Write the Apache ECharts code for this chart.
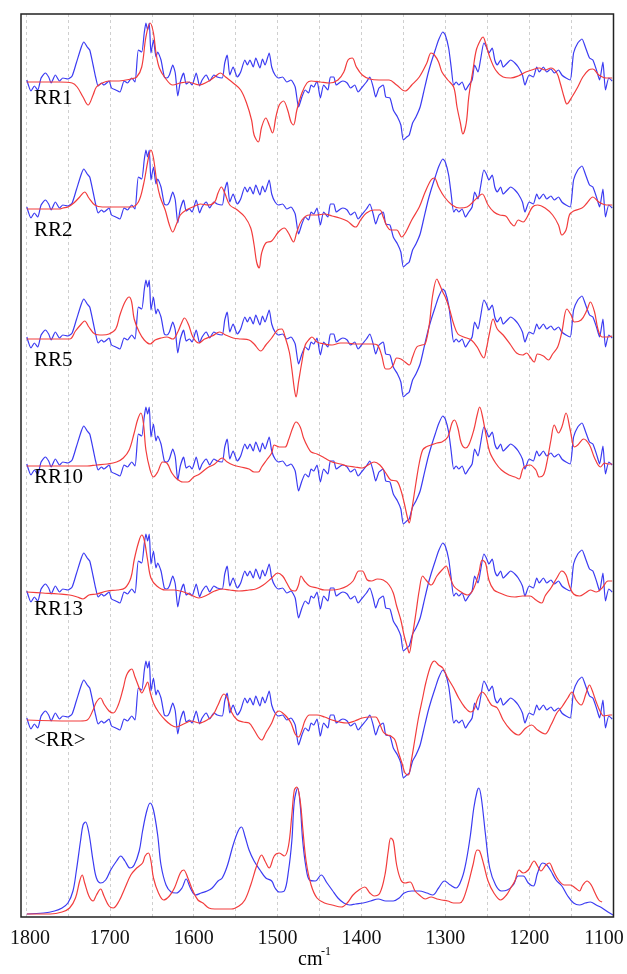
<!DOCTYPE html>
<html>
<head>
<meta charset="utf-8">
<script src="https://cdn.jsdelivr.net/npm/echarts@6/dist/echarts.min.js"></script>
<style>
  html, body { margin: 0; padding: 0; background: #ffffff; }
  #chart { width: 627px; height: 974px; }
</style>
</head>
<body>
<div id="chart"></div>
<script>
// Wavenumber axis (cm-1), drawn high to low
const xTickLabels = [1800, 1700, 1600, 1500, 1400, 1300, 1200, 1100];
const panelNames = ['RR1', 'RR2', 'RR5', 'RR10', 'RR13', '<RR>'];

// Experimental difference spectrum, [wavenumber, intensity]
const diffExp = [[1799,1],[1794,-10],[1790,-5],[1786,-9],[1782,3],[1777,8],[1773,4],[1770,-2],[1765,6],[1760,0],[1756,3],[1750,2],[1745,5],[1740,18],[1734,34],[1731,39],[1727,34],[1724,31],[1720,16],[1717,4],[1714,-5],[1710,-2],[1707,-4],[1701,0],[1698,-7],[1693,-9],[1688,-11],[1683,0],[1679,-2],[1674,3],[1670,-1],[1666,31],[1662,29],[1659,48],[1657,58],[1655,51],[1653,58],[1651,28],[1648,41],[1645,24],[1643,29],[1639,21],[1635,4],[1632,3],[1629,6],[1625,16],[1622,8],[1619,-15],[1616,-1],[1612,8],[1609,-3],[1605,-1],[1602,-4],[1597,8],[1593,-5],[1590,1],[1585,6],[1581,0],[1576,6],[1572,4],[1566,3],[1563,18],[1560,26],[1557,6],[1553,14],[1548,4],[1544,9],[1539,21],[1536,16],[1533,21],[1529,14],[1526,23],[1521,13],[1518,22],[1515,16],[1510,28],[1507,14],[1503,6],[1499,3],[1494,4],[1489,-1],[1484,1],[1479,-6],[1475,-26],[1471,-16],[1467,-9],[1463,-12],[1460,-4],[1457,-6],[1453,0],[1449,-17],[1445,-4],[1440,-9],[1437,4],[1433,4],[1430,-4],[1425,-1],[1422,0],[1417,-2],[1413,-7],[1408,-4],[1404,-11],[1399,-6],[1394,-1],[1390,4],[1386,-6],[1383,-16],[1379,-7],[1374,-4],[1371,-16],[1366,-17],[1362,-29],[1357,-36],[1353,-44],[1350,-59],[1346,-56],[1343,-54],[1339,-42],[1335,-36],[1330,-26],[1326,-12],[1321,6],[1317,18],[1312,31],[1308,41],[1303,49],[1300,46],[1296,33],[1293,14],[1290,-4],[1287,-1],[1284,-4],[1280,-1],[1276,-9],[1272,-4],[1268,1],[1265,16],[1261,9],[1258,21],[1254,38],[1251,34],[1248,28],[1244,33],[1241,21],[1238,16],[1234,21],[1231,14],[1226,18],[1222,21],[1217,18],[1213,14],[1208,6],[1205,-4],[1200,6],[1195,4],[1191,14],[1188,9],[1183,14],[1179,9],[1174,12],[1170,8],[1165,11],[1161,6],[1156,3],[1151,1],[1147,28],[1142,38],[1137,42],[1133,34],[1128,23],[1124,21],[1119,9],[1116,1],[1112,19],[1109,-9],[1105,3],[1101,0]];

// Calculated difference spectra, one per model
const diffRR1 = [[1799,-1],[1760,-1],[1745,-2],[1739,-6],[1732,-16],[1726,-24],[1720,-14],[1716,-6],[1709,-2],[1701,0],[1689,0],[1675,2],[1668,4],[1662,14],[1657,44],[1652,58],[1648,48],[1645,28],[1641,13],[1634,3],[1625,-4],[1616,-2],[1607,-1],[1593,-4],[1584,-1],[1575,4],[1568,8],[1562,4],[1553,-2],[1544,-9],[1537,-22],[1531,-39],[1528,-54],[1523,-61],[1519,-46],[1514,-37],[1510,-44],[1506,-52],[1502,-36],[1498,-24],[1493,-20],[1488,-29],[1484,-41],[1481,-44],[1477,-29],[1471,-12],[1465,-2],[1460,0],[1449,-1],[1438,-2],[1428,1],[1421,9],[1416,21],[1411,23],[1406,14],[1399,6],[1390,2],[1379,1],[1367,1],[1358,-4],[1348,-10],[1340,-4],[1331,4],[1322,18],[1317,28],[1313,26],[1308,19],[1304,9],[1297,1],[1290,-6],[1286,-26],[1282,-42],[1279,-53],[1275,-42],[1272,-16],[1267,11],[1263,31],[1258,41],[1255,44],[1252,38],[1247,24],[1240,11],[1231,4],[1222,3],[1213,5],[1204,9],[1197,11],[1188,13],[1181,11],[1174,13],[1167,8],[1163,-2],[1158,-17],[1155,-23],[1149,-16],[1142,-6],[1136,4],[1129,11],[1124,12],[1117,6],[1108,3],[1101,3]];

const diffRR2 = [[1799,-1],[1760,-1],[1756,0],[1750,1],[1743,5],[1736,11],[1730,16],[1725,10],[1718,3],[1709,1],[1693,1],[1675,1],[1666,6],[1660,23],[1654,50],[1651,58],[1648,50],[1644,26],[1640,11],[1634,-2],[1629,-17],[1625,-24],[1621,-17],[1616,-7],[1609,-2],[1601,1],[1592,4],[1583,3],[1575,6],[1571,15],[1567,21],[1563,15],[1557,3],[1548,-2],[1539,-9],[1532,-20],[1528,-37],[1525,-54],[1522,-60],[1519,-45],[1514,-35],[1507,-33],[1499,-24],[1492,-20],[1487,-25],[1481,-34],[1477,-24],[1471,-12],[1462,-7],[1453,-7],[1444,-6],[1435,-8],[1426,-10],[1417,-13],[1407,-19],[1401,-12],[1394,-5],[1385,-2],[1378,-2],[1374,-9],[1369,-19],[1365,-22],[1358,-22],[1352,-29],[1347,-24],[1340,-12],[1331,1],[1324,16],[1317,28],[1313,30],[1308,21],[1301,11],[1292,3],[1283,0],[1274,1],[1267,6],[1261,11],[1256,14],[1249,3],[1242,-4],[1235,-7],[1228,-8],[1222,-15],[1218,-18],[1213,-12],[1207,-14],[1203,-10],[1196,1],[1190,3],[1181,0],[1172,-7],[1165,-17],[1161,-27],[1156,-22],[1152,-7],[1147,-3],[1137,0],[1131,5],[1124,11],[1117,6],[1108,3],[1101,3]];

const diffRR5 = [[1799,-1],[1748,-1],[1741,7],[1734,14],[1730,17],[1725,11],[1718,4],[1709,3],[1701,4],[1693,9],[1688,23],[1682,36],[1677,41],[1674,36],[1671,19],[1665,6],[1659,-2],[1652,-6],[1646,-2],[1639,0],[1632,1],[1625,-1],[1619,6],[1615,14],[1611,20],[1606,13],[1601,1],[1594,-5],[1587,-1],[1578,2],[1569,6],[1562,3],[1553,0],[1544,-1],[1534,-2],[1528,-6],[1520,-13],[1514,-7],[1507,0],[1500,8],[1495,9],[1491,1],[1486,-14],[1483,-31],[1480,-51],[1478,-59],[1475,-44],[1471,-24],[1467,-7],[1462,-1],[1459,1],[1453,-4],[1444,-6],[1435,-7],[1425,-5],[1417,-5],[1408,-6],[1399,-6],[1387,-6],[1381,-7],[1376,-17],[1371,-31],[1367,-31],[1362,-27],[1358,-20],[1353,-21],[1348,-24],[1343,-27],[1339,-19],[1334,-9],[1328,-7],[1324,-6],[1319,14],[1315,43],[1310,59],[1307,54],[1303,46],[1300,41],[1295,29],[1290,14],[1285,4],[1278,1],[1269,-2],[1262,-9],[1257,-17],[1254,-20],[1251,-11],[1247,6],[1243,19],[1238,9],[1231,3],[1222,-7],[1215,-15],[1208,-17],[1203,-15],[1199,-19],[1194,-24],[1190,-16],[1183,-18],[1177,-22],[1172,-16],[1166,-9],[1161,6],[1155,29],[1150,23],[1146,16],[1138,18],[1131,28],[1127,36],[1122,26],[1118,9],[1113,1],[1106,1],[1101,2]];

const diffRR10 = [[1799,-1],[1727,-1],[1716,0],[1703,1],[1692,3],[1684,7],[1677,15],[1671,32],[1667,45],[1663,52],[1660,42],[1657,15],[1652,-5],[1648,-12],[1643,-7],[1637,3],[1632,2],[1626,-8],[1620,-14],[1613,-17],[1607,-17],[1600,-12],[1593,-9],[1584,-3],[1575,1],[1566,7],[1560,3],[1553,0],[1544,-2],[1534,-4],[1528,-7],[1523,-7],[1519,-2],[1513,5],[1507,12],[1504,20],[1498,18],[1491,18],[1487,25],[1482,37],[1478,43],[1473,38],[1469,27],[1464,18],[1460,13],[1453,11],[1444,7],[1435,3],[1425,1],[1417,-1],[1408,-2],[1399,-3],[1392,0],[1385,3],[1378,0],[1371,-8],[1365,-15],[1358,-16],[1353,-25],[1349,-38],[1345,-53],[1343,-58],[1340,-45],[1335,-18],[1331,2],[1327,15],[1323,18],[1317,20],[1310,22],[1304,23],[1297,28],[1292,42],[1289,45],[1285,37],[1281,22],[1276,17],[1272,20],[1266,35],[1262,50],[1259,58],[1256,50],[1251,28],[1247,13],[1240,2],[1233,-5],[1224,-10],[1217,-12],[1212,-14],[1207,-3],[1199,0],[1192,-5],[1188,-12],[1183,-10],[1179,2],[1174,25],[1170,40],[1165,32],[1161,38],[1156,52],[1151,35],[1146,18],[1142,20],[1135,26],[1128,20],[1122,7],[1115,-2],[1110,2],[1106,1],[1101,1]];

const diffRR13 = [[1799,0],[1780,-1],[1761,-2],[1748,-3],[1739,-5],[1732,-7],[1725,-3],[1716,-2],[1703,1],[1691,2],[1682,4],[1675,14],[1671,32],[1666,49],[1662,57],[1659,52],[1655,32],[1651,14],[1644,6],[1634,2],[1623,2],[1612,0],[1603,-3],[1594,-6],[1584,-3],[1575,1],[1566,3],[1557,2],[1546,1],[1534,2],[1526,3],[1517,7],[1507,14],[1500,19],[1494,16],[1489,9],[1484,2],[1479,1],[1475,7],[1472,16],[1468,11],[1462,6],[1453,4],[1444,2],[1435,2],[1426,3],[1417,6],[1410,11],[1403,21],[1399,21],[1393,12],[1388,11],[1381,13],[1374,12],[1367,7],[1362,-1],[1358,-14],[1353,-28],[1349,-44],[1345,-56],[1343,-61],[1340,-48],[1335,-21],[1331,2],[1327,16],[1323,12],[1317,7],[1310,16],[1304,22],[1299,26],[1295,17],[1290,6],[1283,1],[1274,-3],[1267,2],[1260,19],[1256,32],[1252,29],[1248,12],[1242,2],[1235,-1],[1226,-4],[1217,-5],[1208,-4],[1199,-4],[1192,-8],[1185,-11],[1181,-4],[1174,4],[1167,14],[1161,21],[1156,17],[1152,6],[1147,-2],[1140,-4],[1133,-1],[1127,2],[1120,0],[1113,4],[1106,11],[1101,11]];

const diffRRavg = [[1799,-1],[1748,-2],[1735,-2],[1727,-1],[1720,9],[1716,17],[1711,21],[1707,15],[1701,8],[1696,6],[1690,14],[1684,31],[1680,44],[1674,50],[1670,42],[1665,31],[1662,26],[1658,32],[1655,37],[1652,27],[1648,16],[1642,7],[1634,-1],[1627,-6],[1621,-8],[1612,-5],[1603,-2],[1593,-4],[1584,-1],[1577,4],[1571,14],[1564,25],[1559,19],[1555,7],[1548,-1],[1541,-3],[1534,-4],[1528,-11],[1523,-18],[1519,-21],[1514,-14],[1507,-4],[1502,6],[1498,8],[1494,6],[1489,2],[1484,-4],[1479,-15],[1475,-18],[1471,-11],[1467,-1],[1462,4],[1453,4],[1444,2],[1435,-1],[1426,-3],[1417,-4],[1408,-2],[1399,1],[1390,2],[1383,2],[1379,-3],[1374,-13],[1369,-16],[1365,-17],[1360,-21],[1356,-33],[1351,-46],[1348,-54],[1344,-56],[1341,-44],[1336,-19],[1332,1],[1327,21],[1323,37],[1317,54],[1313,58],[1308,54],[1303,51],[1297,41],[1290,31],[1284,21],[1277,12],[1270,7],[1266,9],[1261,21],[1256,27],[1252,24],[1245,14],[1238,11],[1231,-1],[1222,-11],[1213,-16],[1204,-9],[1197,-6],[1190,-11],[1181,-15],[1174,-6],[1167,6],[1161,12],[1154,21],[1149,27],[1144,19],[1138,14],[1132,26],[1128,34],[1125,29],[1120,17],[1115,7],[1111,3],[1104,4],[1101,4]];

// Absorption spectra (bottom panel)
const absExp = [[1799,0],[1779,1],[1766,3],[1757,6],[1750,11],[1744,23],[1740,43],[1735,73],[1732,89],[1729,92],[1725,81],[1720,53],[1716,36],[1711,31],[1705,34],[1699,44],[1692,53],[1687,58],[1682,53],[1676,46],[1671,49],[1665,63],[1661,83],[1656,103],[1652,111],[1648,104],[1643,79],[1639,49],[1633,29],[1627,22],[1621,21],[1614,26],[1609,35],[1604,26],[1598,19],[1591,21],[1584,23],[1578,26],[1571,33],[1566,36],[1560,48],[1553,69],[1547,83],[1543,87],[1539,78],[1534,64],[1528,53],[1521,44],[1514,36],[1507,33],[1503,26],[1498,22],[1492,23],[1487,43],[1483,73],[1480,113],[1476,126],[1473,109],[1470,73],[1466,46],[1462,34],[1455,33],[1448,39],[1441,31],[1435,24],[1428,16],[1421,11],[1414,9],[1407,10],[1398,11],[1389,13],[1380,15],[1371,13],[1362,13],[1355,16],[1349,21],[1340,23],[1331,23],[1322,21],[1315,19],[1308,26],[1301,33],[1294,29],[1287,26],[1280,36],[1275,53],[1270,79],[1266,106],[1262,123],[1260,126],[1257,116],[1252,79],[1247,46],[1240,29],[1233,23],[1226,24],[1219,29],[1213,38],[1207,38],[1201,31],[1195,28],[1190,41],[1184,51],[1179,49],[1174,43],[1168,34],[1161,28],[1154,18],[1147,11],[1140,9],[1133,11],[1127,12],[1120,9],[1113,6],[1106,2],[1100,-1]];

const absCalc = [[1799,0],[1771,0],[1757,2],[1748,6],[1741,16],[1736,33],[1733,39],[1730,31],[1725,18],[1720,13],[1716,19],[1711,25],[1707,18],[1701,8],[1696,6],[1689,13],[1682,26],[1675,39],[1668,46],[1661,51],[1658,58],[1654,61],[1651,53],[1648,36],[1642,21],[1636,14],[1629,18],[1623,26],[1616,41],[1612,44],[1607,36],[1601,23],[1595,14],[1589,11],[1582,6],[1575,5],[1566,5],[1555,5],[1546,8],[1539,14],[1532,29],[1525,48],[1519,59],[1515,53],[1510,46],[1504,58],[1498,61],[1492,58],[1487,68],[1483,99],[1480,124],[1477,127],[1473,113],[1470,86],[1466,53],[1460,29],[1453,16],[1444,11],[1435,9],[1424,7],[1417,11],[1410,19],[1403,24],[1396,27],[1390,21],[1385,18],[1378,21],[1372,39],[1368,63],[1365,76],[1362,73],[1358,49],[1353,34],[1348,31],[1342,32],[1336,23],[1331,19],[1324,15],[1317,17],[1310,15],[1304,14],[1297,13],[1290,11],[1283,11],[1279,14],[1273,29],[1267,49],[1262,64],[1259,63],[1254,49],[1249,33],[1242,21],[1234,14],[1227,19],[1222,26],[1217,33],[1212,44],[1207,41],[1201,44],[1194,53],[1190,48],[1186,43],[1180,49],[1176,51],[1171,43],[1165,34],[1158,29],[1151,29],[1145,26],[1140,23],[1136,29],[1131,33],[1126,29],[1122,22],[1117,14],[1113,12]];

const calcSets = [diffRR1, diffRR2, diffRR5, diffRR10, diffRR13, diffRRavg];

// ---- layout ----
const PLOT_L = 26, PLOT_R = 613, PLOT_T = 14, PLOT_B = 917;
const panelBase = [81, 208, 338, 465, 592, 719];   // zero line of each trace (px)
const labelY = [99, 231, 361, 478, 610, 741];
const HALF = 70;
const BLUE = '#3b3bf2', RED = '#f23c3c';
const SERIF = '"Liberation Serif", "Times New Roman", serif';

const grids = [], xAxes = [], yAxes = [], series = [];

// grid 0: frame axis with labels and dashed grid lines
grids.push({ left: PLOT_L, right: 627 - PLOT_R, top: PLOT_T, bottom: 974 - PLOT_B });
xAxes.push({
  gridIndex: 0, type: 'value', min: 1100, max: 1800, interval: 50, inverse: true,
  axisLine: { show: false }, axisTick: { show: false },
  splitLine: { show: true, showMinLine: true, showMaxLine: true,
    lineStyle: { color: '#cfcfcf', width: 1, type: [3, 3] } },
  axisLabel: {
    margin: 12, fontFamily: SERIF, fontSize: 20, color: '#111',
    formatter: v => {
      if (!xTickLabels.includes(v)) return '';
      if (v === 1100) return '{r|' + v + '}';
      if (v === 1800) return '{l|' + v + '}';
      return String(v);
    },
    rich: {
      r: { fontFamily: SERIF, fontSize: 20, color: '#111', padding: [0, 18, 0, 0] },
      l: { fontFamily: SERIF, fontSize: 20, color: '#111', padding: [0, 0, 0, 8] }
    }
  }
});
yAxes.push({ gridIndex: 0, type: 'value', show: false, splitLine: { show: false } });

function addPanel(top, height, yMin, yMax) {
  const gi = grids.length;
  grids.push({ left: PLOT_L, right: 627 - PLOT_R, top: top, height: height });
  xAxes.push({ gridIndex: gi, type: 'value', min: 1100, max: 1800, inverse: true, show: false });
  yAxes.push({ gridIndex: gi, type: 'value', min: yMin, max: yMax, show: false });
  return gi;
}

function lineSeries(gi, data, color, smooth) {
  return {
    type: 'line', xAxisIndex: gi, yAxisIndex: gi, data: data,
    showSymbol: false, smooth: smooth, clip: false, animation: false,
    lineStyle: { color: color, width: 1.2 }, silent: true
  };
}

panelBase.forEach((b, i) => {
  const gi = addPanel(b - HALF, 2 * HALF, -HALF, HALF);
  series.push(lineSeries(gi, diffExp, BLUE, 0.2));
  series.push(lineSeries(gi, calcSets[i], RED, 0.35));
});

// bottom absorption panel
const giAbs = addPanel(PLOT_B - 133, 133, -3, 130);
series.push(lineSeries(giAbs, absExp, BLUE, 0.35));
series.push(lineSeries(giAbs, absCalc, RED, 0.35));

const graphics = panelNames.map((name, i) => ({
  type: 'text', left: 34, top: labelY[i] - 11, z: 20,
  style: { text: name, font: '21px ' + SERIF, fill: '#000' }
}));
graphics.push({
  type: 'rect', z: 30, silent: true,
  shape: { x: 21, y: PLOT_T, width: PLOT_R - 21 + 0.5, height: PLOT_B - PLOT_T },
  style: { fill: 'none', stroke: '#222', lineWidth: 1.5 }
});
graphics.push({ type: 'text', left: 298, top: 950, style: { text: 'cm', font: '20px ' + SERIF, fill: '#000' } });
graphics.push({ type: 'text', left: 321, top: 946, style: { text: '-1', font: '12px ' + SERIF, fill: '#000' } });

const chart = echarts.init(document.getElementById('chart'), null, { renderer: 'canvas' });
chart.setOption({
  animation: false,
  backgroundColor: '#ffffff',
  grid: grids, xAxis: xAxes, yAxis: yAxes, series: series,
  graphic: graphics
});
</script>
</body>
</html>
